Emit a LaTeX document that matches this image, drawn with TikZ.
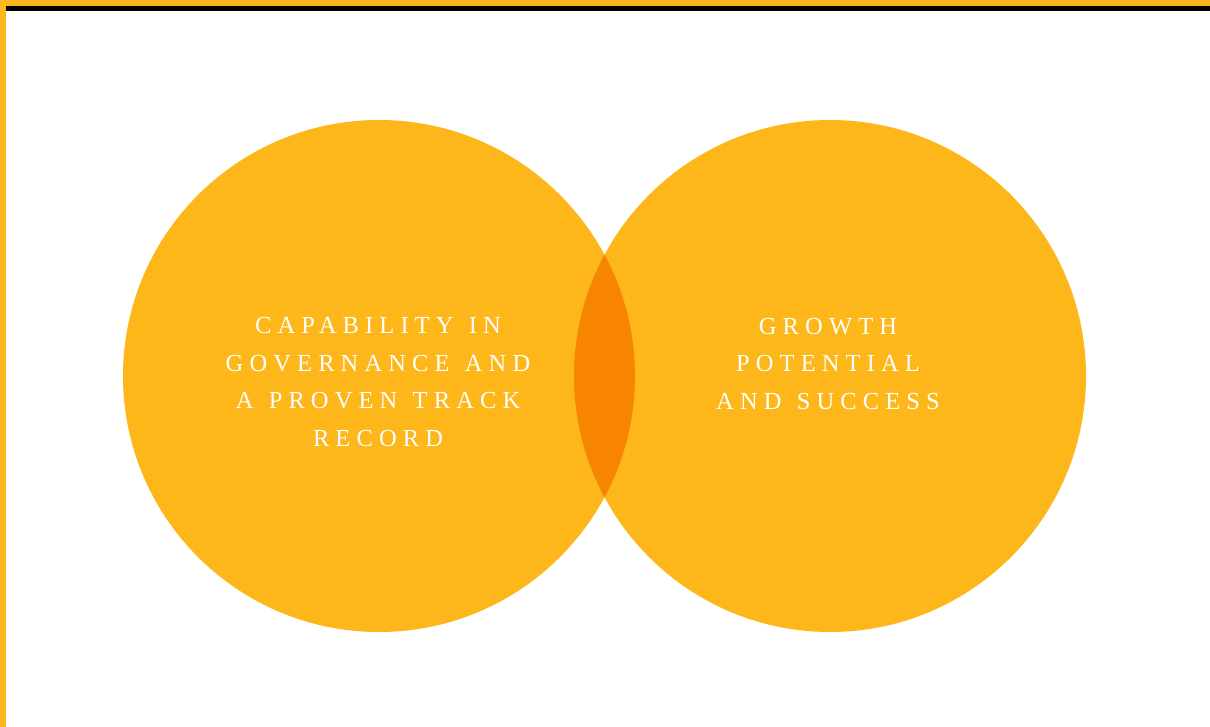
\documentclass[tikz,border=0pt]{standalone}
\usepackage{fontspec}
\setmainfont{Liberation Serif}
\newfontfamily\spacedserif[LetterSpace=25,WordSpace=1.25]{Liberation Serif}
\definecolor{gold}{HTML}{FDB71A}
\definecolor{deeporange}{HTML}{F78500}
\begin{document}
\begin{tikzpicture}[x=1pt,y=-1pt,
  ring/.style={circle,fill=gold,minimum size=512pt,inner sep=0pt,outer sep=0pt},
  caption/.style={text=white,align=center,font=\spacedserif\fontsize{24.5}{37.5}\selectfont}]
  \useasboundingbox (0,0) rectangle (1210,727);
  \fill[white] (0,0) rectangle (1210,727);
  % frame bands
  \fill[gold] (0,0) rectangle (1210,6);
  \fill[black] (6,6) rectangle (1210,11);
  \fill[gold] (0,0) rectangle (6,727);
  % the two circles
  \node[ring] (left) at (379,376) {};
  \node[ring] (right) at (830,376) {};
  % overlapping lens
  \begin{scope}
    \clip (379,376) circle (256);
    \fill[deeporange] (830,376) circle (256);
  \end{scope}
  \node[caption] (ltext) at (378,382) {CAPABILITY IN\\GOVERNANCE AND\\A PROVEN TRACK\\RECORD};
  \node[caption] (rtext) at (828,364) {GROWTH\\POTENTIAL\\AND SUCCESS};
\end{tikzpicture}
\end{document}
